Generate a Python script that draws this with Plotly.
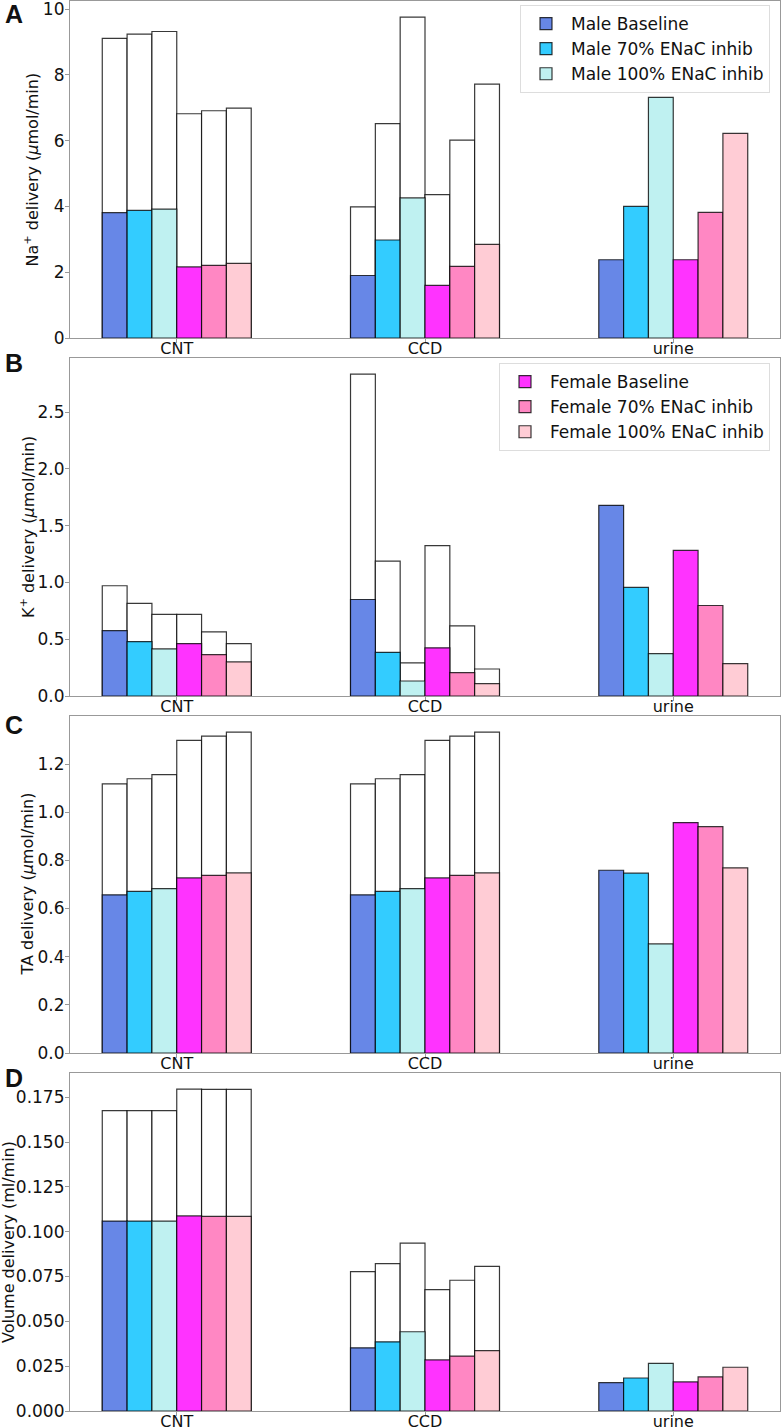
import plotly.graph_objects as go

categories = ["CNT", "CCD", "urine"]
series_names = ["Male Baseline", "Male 70% ENaC inhib", "Male 100% ENaC inhib",
                "Female Baseline", "Female 70% ENaC inhib", "Female 100% ENaC inhib"]
series_colors = ["#6787E7", "#33CCFF", "#BFF1F1", "#FF33FF", "#FF87C3", "#FFCCD5"]

# segment-end delivery (coloured) per series, ordered [CNT, CCD, urine]
na_end = [[3.81, 1.90, 2.38], [3.88, 2.98, 4.00], [3.92, 4.26, 7.32],
          [2.16, 1.60, 2.38], [2.21, 2.18, 3.82], [2.27, 2.85, 6.22]]
# segment-entry delivery (white outline) per series, [CNT, CCD] (none for urine)
na_start = [[9.11, 3.99, None], [9.24, 6.52, None], [9.32, 9.76, None],
            [6.82, 4.36, None], [6.91, 6.02, None], [6.99, 7.72, None]]

k_end = [[0.576, 0.850, 1.679], [0.479, 0.385, 0.956], [0.415, 0.132, 0.374],
         [0.462, 0.424, 1.282], [0.365, 0.206, 0.797], [0.300, 0.109, 0.285]]
k_start = [[0.971, 2.835, None], [0.815, 1.188, None], [0.718, 0.291, None],
           [0.718, 1.324, None], [0.565, 0.618, None], [0.462, 0.238, None]]

ta_end = [[0.657, 0.657, 0.759], [0.671, 0.671, 0.747], [0.683, 0.683, 0.453],
          [0.727, 0.727, 0.957], [0.738, 0.738, 0.940], [0.748, 0.748, 0.769]]
ta_start = [[1.118, 1.118, None], [1.139, 1.139, None], [1.156, 1.156, None],
            [1.298, 1.298, None], [1.316, 1.316, None], [1.333, 1.333, None]]

vol_end = [[0.1059, 0.0352, 0.0158], [0.1059, 0.0386, 0.0184], [0.1059, 0.0442, 0.0266],
           [0.1088, 0.0285, 0.0162], [0.1085, 0.0306, 0.0190], [0.1085, 0.0337, 0.0244]]
vol_start = [[0.1675, 0.0777, None], [0.1675, 0.0822, None], [0.1675, 0.0936, None],
             [0.1795, 0.0677, None], [0.1793, 0.0729, None], [0.1793, 0.0807, None]]

panel_letters = ["A", "B", "C", "D"]
y_titles = ["Na<sup>+</sup> delivery (<i>μ</i>mol/min)",
            "K<sup>+</sup> delivery (<i>μ</i>mol/min)",
            "TA delivery (<i>μ</i>mol/min)",
            "Volume delivery (ml/min)"]
y_dticks = [2, 0.5, 0.2, 0.025]
y_formats = ["d", ".1f", ".1f", ".3f"]

panels = [(na_end, na_start), (k_end, k_start), (ta_end, ta_start), (vol_end, vol_start)]

W, H = 781, 1428
L, R = 70, 1
PW = W - L - R
# pixel top/bottom of each panel's plot area
panel_px = [(1, 338), (358, 696), (716, 1053), (1073, 1411)]
letter_px = [14.5, 363, 724.5, 1077.5]
ytitle_x_px = [32, 27, 27, 8]

bar_w = 0.1
font_family = "DejaVu Sans"
edge = "rgba(0,0,0,0.78)"

fig = go.Figure()
for p, (end_vals, start_vals) in enumerate(panels):
    xa = "x" if p == 0 else f"x{p+1}"
    ya = "y" if p == 0 else f"y{p+1}"
    for j in range(6):
        xs = [i + (j - 2.5) * bar_w for i in range(len(categories))]
        fig.add_trace(go.Bar(
            x=xs, y=start_vals[j], width=bar_w, xaxis=xa, yaxis=ya,
            marker=dict(color="white", line=dict(color=edge, width=1.2)),
            showlegend=False, hoverinfo="skip"))
    for j in range(6):
        xs = [i + (j - 2.5) * bar_w for i in range(len(categories))]
        male = j < 3
        show = (p == 0 and male) or (p == 1 and not male)
        fig.add_trace(go.Bar(
            x=xs, y=end_vals[j], width=bar_w, xaxis=xa, yaxis=ya,
            name=series_names[j],
            marker=dict(color=series_colors[j], line=dict(color=edge, width=1.2)),
            showlegend=show, legend="legend" if male else "legend2"))

layout = dict(
    width=W, height=H, barmode="overlay",
    margin=dict(l=L, r=R, t=0, b=0, autoexpand=False),
    plot_bgcolor="white", paper_bgcolor="white",
    font=dict(family=font_family, size=17, color="#111"),
)
xmin = -0.3 - 0.13
xmax = len(categories) - 1 + 0.3 + 0.13
annotations = []
for p, (end_vals, start_vals) in enumerate(panels):
    top, bot = panel_px[p]
    allv = [v for row in end_vals + start_vals for v in row if v is not None]
    ymax = max(allv) * 1.05
    xk = "xaxis" if p == 0 else f"xaxis{p+1}"
    yk = "yaxis" if p == 0 else f"yaxis{p+1}"
    ya = "y" if p == 0 else f"y{p+1}"
    xa = "x" if p == 0 else f"x{p+1}"
    layout[xk] = dict(domain=[0, 1], anchor=ya, range=[xmin, xmax], automargin=False,
                      tickvals=list(range(len(categories))), ticktext=categories,
                      showline=True, linecolor="#999", linewidth=1.2, mirror=True,
                      ticks="outside", ticklen=4, tickcolor="#999",
                      ticklabelstandoff=-8,
                      showgrid=False, zeroline=False,
                      tickfont=dict(size=16, family=font_family))
    layout[yk] = dict(domain=[1 - bot / H, 1 - top / H], anchor=xa, automargin=False,
                      range=[0, ymax], dtick=y_dticks[p], tick0=0,
                      tickformat=y_formats[p], ticklabeloverflow="allow",
                      showline=True, linecolor="#999", linewidth=1.2, mirror=True,
                      ticks="outside", ticklen=4, tickcolor="#999",
                      ticklabelstandoff=-3,
                      showgrid=False, zeroline=False,
                      tickfont=dict(size=17, family=font_family))
    annotations.append(dict(text=f"<b>{panel_letters[p]}</b>", xref="paper", yref="paper",
                            x=(3 - L) / PW, y=1 - letter_px[p] / H,
                            xanchor="left", yanchor="middle", showarrow=False,
                            font=dict(size=25, family="Liberation Sans", color="#111")))
    annotations.append(dict(text=y_titles[p], xref="paper", yref="paper",
                            x=(ytitle_x_px[p] - L) / PW, y=1 - (top + bot) / 2 / H,
                            xanchor="center", yanchor="middle", textangle=-90,
                            showarrow=False,
                            font=dict(size=16, family=font_family, color="#111")))
layout["annotations"] = annotations
legend_common = dict(xanchor="right", yanchor="top",
                     bordercolor="#ddd", borderwidth=1, bgcolor="rgba(255,255,255,0.9)",
                     font=dict(size=17, family=font_family), tracegroupgap=2, itemwidth=40)
layout["legend"] = dict(x=1 - 10 / PW, y=1 - 5 / H, **legend_common)
layout["legend2"] = dict(x=1 - 10 / PW, y=1 - 363 / H, **legend_common)
fig.update_layout(**layout)
fig.write_html("out.html", post_script="document.body.style.margin='0px';",
               config={"displayModeBar": False})
